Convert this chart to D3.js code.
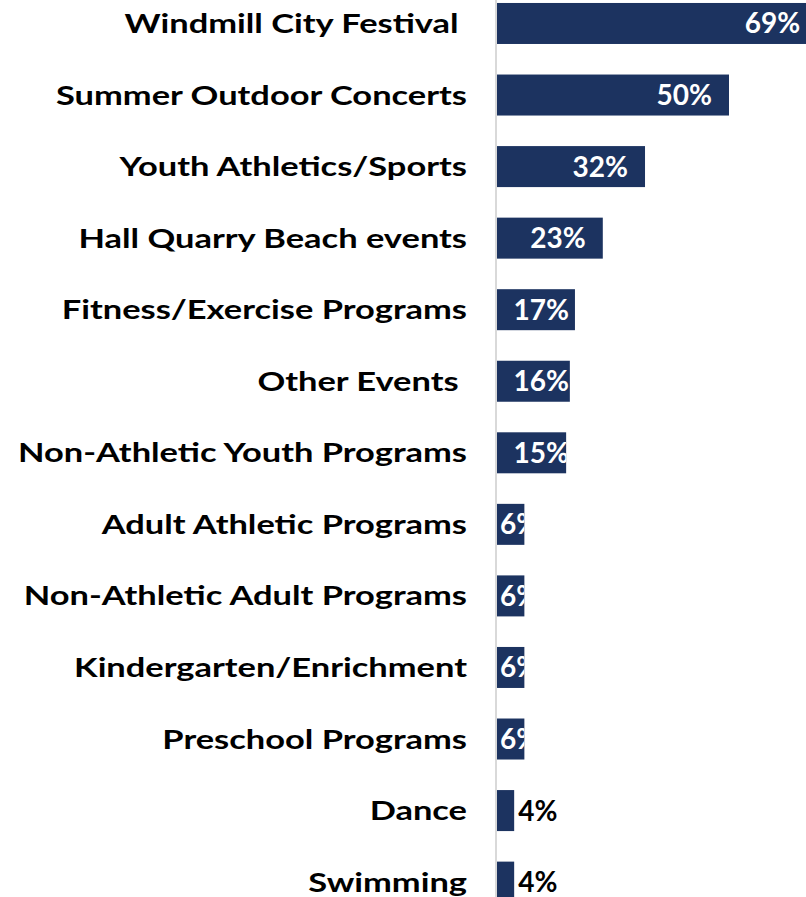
<!DOCTYPE html>
<html>
<head>
<meta charset="utf-8">
<script src="https://cdn.jsdelivr.net/npm/d3@7"></script>
<style>
  body { margin: 0; background: #fff; }
  svg { display: block; }
  text { font-family: Lato, "Open Sans", sans-serif; font-weight: bold; white-space: pre; }
</style>
</head>
<body>
<svg width="806" height="897"></svg>
<script>
// categories, top to bottom
var categories = [
  "Windmill City Festival ",
  "Summer Outdoor Concerts",
  "Youth Athletics/Sports",
  "Hall Quarry Beach events",
  "Fitness/Exercise Programs",
  "Other Events ",
  "Non-Athletic Youth Programs",
  "Adult Athletic Programs",
  "Non-Athletic Adult Programs",
  "Kindergarten/Enrichment",
  "Preschool Programs",
  "Dance",
  "Swimming"
];
var values = [69, 50, 31.9, 22.8, 16.8, 15.7, 14.9, 5.9, 5.9, 5.9, 5.9, 3.7, 3.7];
var valueLabels = ["69%", "50%", "32%", "23%", "17%", "16%", "15%", "6%", "6%", "6%", "6%", "4%", "4%"];

var svg = d3.select("svg"),
    width = +svg.attr("width"),
    height = +svg.attr("height");

var barColor = "#1c3360";
// the original label face (Gill Sans Bold) runs wider than Lato
var widen = 1.275;

var x = d3.scaleLinear()
    .domain([0, 100])
    .range([497, 961]);

var y = d3.scaleBand()
    .domain(categories)
    .range([-12.3, 917.9])
    .paddingInner(0.427)
    .paddingOuter(0.2135);

// axis line
svg.append("line")
    .attr("x1", 496).attr("x2", 496)
    .attr("y1", 0).attr("y2", height)
    .attr("stroke", "#d9d9d9")
    .attr("stroke-width", 2);

var rows = svg.selectAll("g.row")
  .data(categories.map(function(c, i) { return {cat: c, v: values[i], lab: valueLabels[i], i: i}; }))
  .enter().append("g")
    .attr("class", "row");

rows.append("clipPath")
    .attr("id", function(d) { return "clip" + d.i; })
  .append("rect")
    .attr("x", x(0))
    .attr("y", function(d) { return y(d.cat); })
    .attr("width", function(d) { return x(d.v) - x(0); })
    .attr("height", y.bandwidth());

rows.append("rect")
    .attr("x", x(0))
    .attr("y", function(d) { return y(d.cat); })
    .attr("width", function(d) { return x(d.v) - x(0); })
    .attr("height", y.bandwidth())
    .attr("fill", barColor);

// category labels
rows.append("text")
    .attr("class", "cat")
    .attr("x", 467)
    .attr("y", function(d) { return y(d.cat) + y.bandwidth() / 2 + 9.5; })
    .attr("text-anchor", "end")
    .attr("font-size", 27)
    .attr("font-weight", 900)
    .attr("fill", "#000")
    .text(function(d) { return d.cat; })
    .each(function() {
      var w = this.getComputedTextLength();
      d3.select(this)
        .attr("textLength", w * widen)
        .attr("lengthAdjust", "spacingAndGlyphs");
    });

// value labels
rows.append("text")
    .attr("x", function(d) {
      if (d.v < 5) return x(d.v) + 4;
      if (d.v < 10) return x(0) + 3;
      return Math.max(x(d.v) - 17, x(0) + 72);
    })
    .attr("y", function(d) { return y(d.cat) + y.bandwidth() / 2 + 10; })
    .attr("text-anchor", function(d) { return d.v < 10 ? "start" : "end"; })
    .attr("font-size", 28)
    .attr("font-weight", 900)
    .attr("fill", function(d) { return d.v < 5 ? "#000" : "#fff"; })
    .attr("clip-path", function(d) { return d.v < 5 ? null : "url(#clip" + d.i + ")"; })
    .text(function(d) { return d.lab; });
</script>
</body>
</html>
